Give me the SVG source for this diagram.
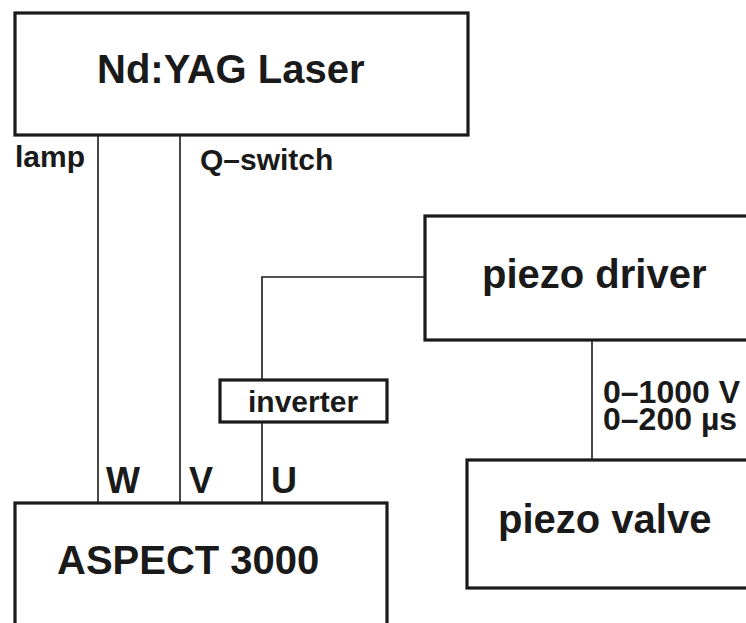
<svg xmlns="http://www.w3.org/2000/svg" width="746" height="623" viewBox="0 0 746 623">
<style>
.box{fill:#fff;stroke:#1a1a1a;stroke-width:3.2}
.wire{fill:none;stroke:#1a1a1a;stroke-width:1.6}
text{font-family:"Liberation Sans",Arial,Helvetica,sans-serif;font-weight:bold;fill:#1a1a1a}
.big{font-size:40px}
.mid{font-size:30px}
.lbl{font-size:36px}
.val{font-size:32px}
</style>
<rect width="746" height="623" fill="#fff"/>
<g id="connectors">
<line class="wire" x1="98" y1="135" x2="98" y2="503"/>
<line class="wire" x1="180" y1="135" x2="180" y2="503"/>
<polyline class="wire" points="425,277 262,277 262,380"/>
<line class="wire" x1="262" y1="422" x2="262" y2="503"/>
<line class="wire" x1="592" y1="340" x2="592" y2="460"/>
</g>
<g id="laser">
<rect class="box" x="15" y="13" width="453" height="122"/>
<text class="big" x="97" y="83">Nd:YAG Laser</text>
</g>
<g id="lamp-label"><text class="mid" x="15" y="167">lamp</text></g>
<g id="qswitch-label"><text class="mid" x="200" y="170">Q–switch</text></g>
<g id="piezo-driver">
<rect class="box" x="425" y="216" width="340" height="124"/>
<text class="big" x="482" y="288">piezo driver</text>
</g>
<g id="inverter">
<rect class="box" x="220" y="380" width="167" height="42"/>
<text class="mid" x="248" y="412">inverter</text>
</g>
<g id="pulse-label">
<text class="val" x="603" y="403">0–1000 V</text>
<text class="val" x="603" y="430">0–200 µs</text>
</g>
<g id="piezo-valve">
<rect class="box" x="467" y="460" width="300" height="128"/>
<text class="big" x="498" y="533">piezo valve</text>
</g>
<g id="aspect">
<rect class="box" x="15" y="503" width="372" height="140"/>
<text class="big" x="57" y="574">ASPECT 3000</text>
</g>
<g id="channel-labels">
<text class="lbl" x="106" y="493">W</text>
<text class="lbl" x="189" y="493">V</text>
<text class="lbl" x="271" y="493">U</text>
</g>
</svg>
